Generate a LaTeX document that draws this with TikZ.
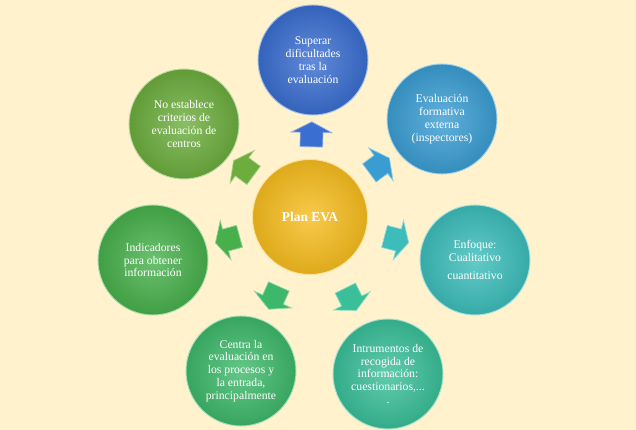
\documentclass[tikz,border=0pt]{standalone}
\usepackage{fontspec}
\setmainfont{Liberation Serif}
\usetikzlibrary{shapes.arrows}

\definecolor{fondo}{HTML}{FFF2CC}
\definecolor{cPlan}{HTML}{F7BD1E}
\definecolor{cSuperar}{HTML}{3A6ED0}
\definecolor{cFormativa}{HTML}{3A9DD2}
\definecolor{cEnfoque}{HTML}{3CBDBA}
\definecolor{cInstrumentos}{HTML}{3ABF98}
\definecolor{cCentra}{HTML}{3DB86A}
\definecolor{cIndicadores}{HTML}{47B04B}
\definecolor{cCriterios}{HTML}{6CAD3D}

\begin{document}
\begin{tikzpicture}[x=0.03cm, y=-0.03cm,
    bola/.style={circle, minimum size=3.3cm, inner sep=0pt, align=center, text=white,
        font=\fontsize{10}{11}\selectfont, shading=radial, inner color=#1!80!white,
        outer color=#1!90!black, draw=#1!45!white, line width=0.8pt},
    flecha/.style={single arrow, sloped, allow upside down, minimum height=0.75cm,
        minimum width=1.2cm, single arrow head extend=0.27cm, single arrow tip angle=125,
        inner xsep=0pt, inner ysep=0.33cm, fill=#1, draw=#1!55!white, line width=0.6pt}]
    % Background
    \fill[fondo] (0,0) rectangle (636,430);
    \useasboundingbox (0,0) rectangle (636,430);

    % Nodes
    \node[bola=cPlan, minimum size=3.45cm, font=\bfseries\fontsize{11.5}{13}\selectfont] (plan) at (310,217) {Plan EVA};
    \node[bola=cSuperar] (superar) at (313,60) {Superar\\ dificultades\\ tras la\\ evaluación};
    \node[bola=cFormativa] (formativa) at (442,119) {Evaluación\\ formativa\\ externa\\ (inspectores)};
    \node[bola=cEnfoque] (enfoque) at (475,260) {Enfoque:\\ Cualitativo\\[5pt] cuantitativo};
    \node[bola=cInstrumentos] (instrumentos) at (388,374) {Intrumentos de\\ recogida de\\ información:\\ cuestionarios,...\\ .};
    \node[bola=cCentra] (centra) at (241,371) {Centra la\\ evaluación en\\ los procesos y\\ la entrada,\\ principalmente};
    \node[bola=cIndicadores] (indicadores) at (153,260) {Indicadores\\ para obtener\\ información};
    \node[bola=cCriterios] (criterios) at (184,124) {No establece\\ criterios de\\ evaluación de\\ centros};

    % Arrows
    \path (plan) -- node[flecha=cSuperar] {} (superar);
    \path (plan) -- node[flecha=cFormativa] {} (formativa);
    \path (plan) -- node[flecha=cEnfoque] {} (enfoque);
    \path (plan) -- node[flecha=cInstrumentos] {} (instrumentos);
    \path (plan) -- node[flecha=cCentra] {} (centra);
    \path (plan) -- node[flecha=cIndicadores] {} (indicadores);
    \path (plan) -- node[flecha=cCriterios] {} (criterios);
\end{tikzpicture}
\end{document}
